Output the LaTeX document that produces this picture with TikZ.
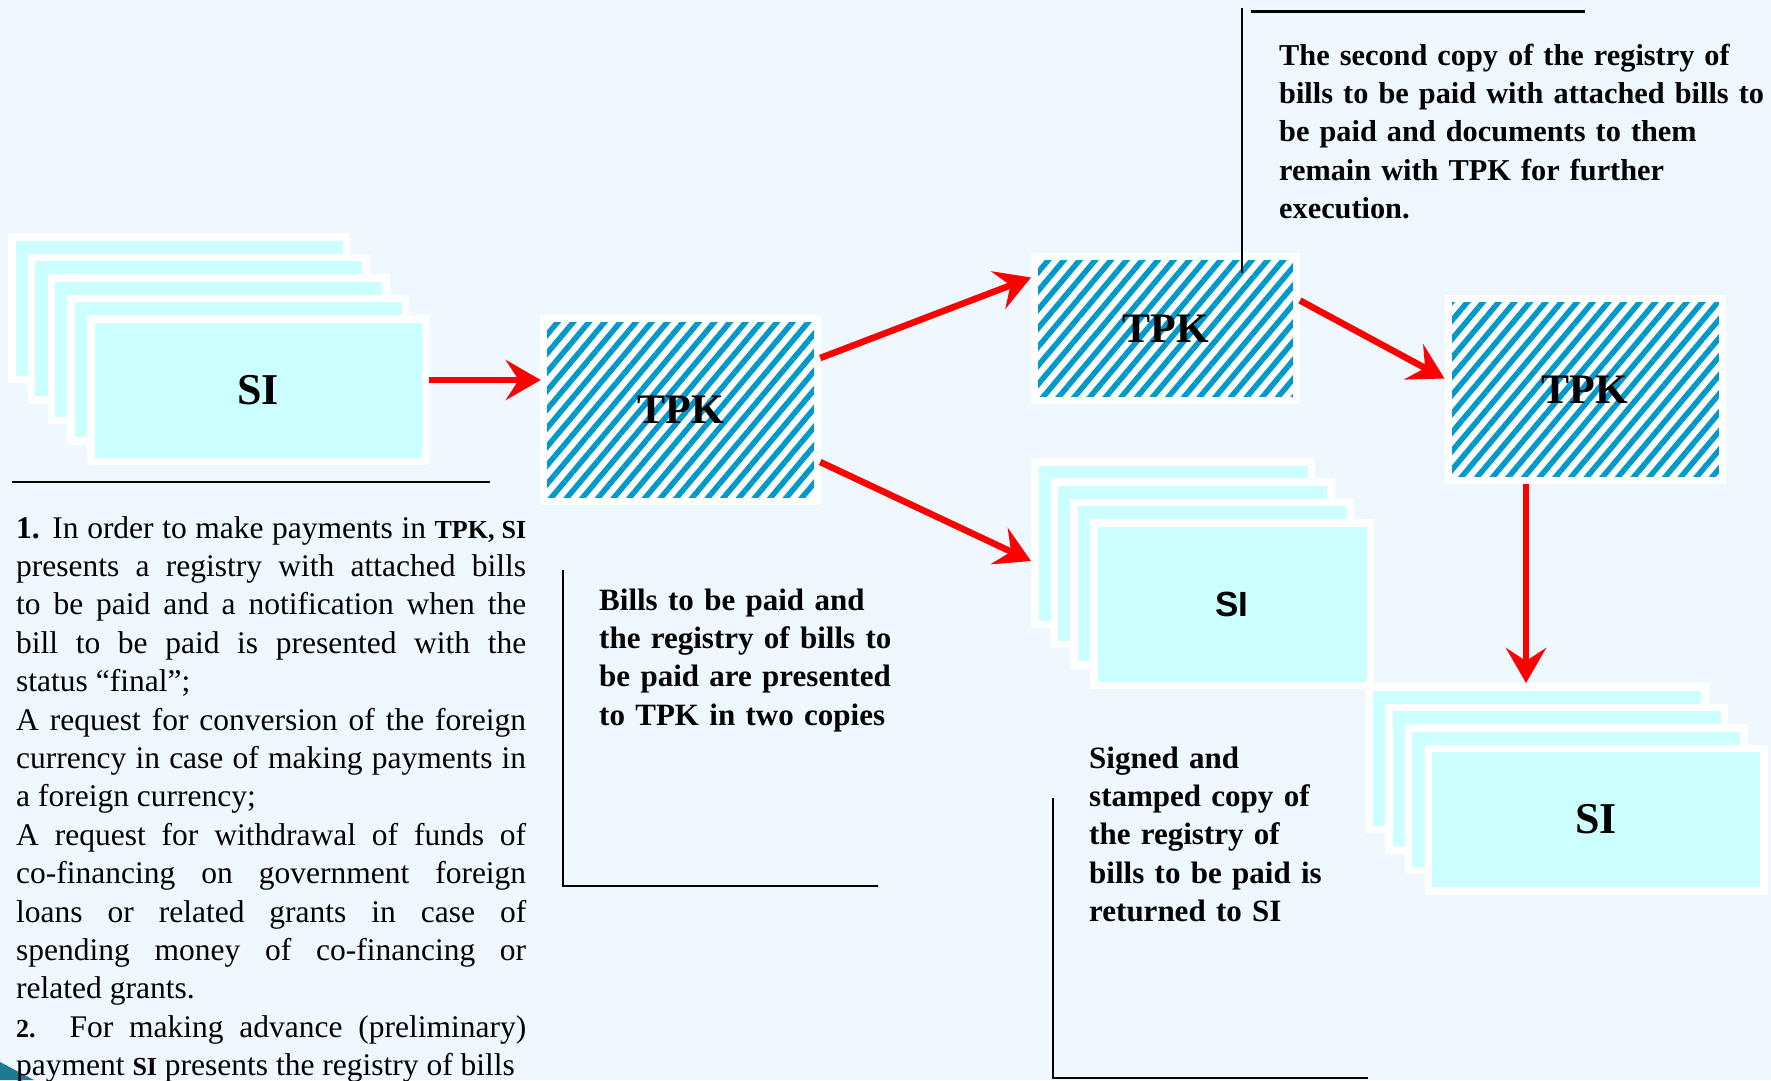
\documentclass[tikz,border=0pt]{standalone}
\usepackage{fontspec}
\setmainfont{Liberation Serif}
\newfontfamily\sifont{Liberation Sans}
\usetikzlibrary{arrows.meta,patterns.meta}
\definecolor{bgblue}{RGB}{239,247,255}
\definecolor{sicyan}{RGB}{204,255,255}
\definecolor{hatchblue}{RGB}{0,153,204}
\definecolor{cornerteal}{RGB}{30,122,145}
\newcommand{\abbr}[1]{{\fontsize{26pt}{38.4pt}\selectfont\bfseries #1}}

\begin{document}
\begin{tikzpicture}[x=1pt, y=-1pt]
		\tikzset{sheet/.style = {shape=rectangle, draw=white, line width=7.5pt, fill=sicyan, inner sep=0pt, font=\fontsize{44pt}{44pt}\selectfont\bfseries}}
		\tikzset{tpk/.style = {shape=rectangle, draw=white, line width=7pt, preaction={fill=white}, pattern={Lines[angle=50, distance=12pt, line width=5.5pt]}, pattern color=hatchblue, inner sep=0pt, font=\fontsize{42pt}{42pt}\selectfont\bfseries}}
		\tikzset{flow/.style = {draw=red, line width=6.5pt, -{Stealth[length=35pt, width=40pt, inset=13pt]}}}
		\tikzset{note/.style = {anchor=base west, inner sep=0pt, align=left, font=\fontsize{31pt}{38.4pt}\selectfont\bfseries}}
		\tikzset{rule/.style = {draw=black, line width=2.5pt}}

		\useasboundingbox (0,0) rectangle (1771,1080);
		\fill[bgblue] (0,0) rectangle (1771,1080);
		\fill[cornerteal] (0,1062) -- (34,1080) -- (0,1080) -- cycle;

		\node[sheet, minimum width=334.5pt, minimum height=142.5pt] (A_1) at (179,308) {};
		\node[sheet, minimum width=334.5pt, minimum height=142.5pt] (A_2) at (198.75,328.5) {};
		\node[sheet, minimum width=334.5pt, minimum height=142.5pt] (A_3) at (218.5,349) {};
		\node[sheet, minimum width=334.5pt, minimum height=142.5pt] (A_4) at (238.25,369.5) {};
		\node[sheet, minimum width=334.5pt, minimum height=142.5pt] (A_5) at (258,390) {SI};

		\node[tpk, minimum width=274pt, minimum height=183pt] (T_1) at (680.5,410) {TPK};
		\node[tpk, minimum width=262pt, minimum height=144pt] (T_2) at (1165.5,328.5) {TPK};
		\node[tpk, minimum width=274pt, minimum height=182pt] (T_3) at (1585,389.5) {TPK};

		\node[sheet, minimum width=276.5pt, minimum height=162.5pt] (B_1) at (1173,543) {};
		\node[sheet, minimum width=276.5pt, minimum height=162.5pt] (B_2) at (1192.7,563.3) {};
		\node[sheet, minimum width=276.5pt, minimum height=162.5pt] (B_3) at (1212.3,583.7) {};
		\node[sheet, minimum width=276.5pt, minimum height=162.5pt, font=\fontsize{35pt}{35pt}\selectfont\sifont\bfseries] (B_4) at (1232,604) {SI};

		\node[sheet, minimum width=335.5pt, minimum height=142.5pt] (C_1) at (1537,758) {};
		\node[sheet, minimum width=335.5pt, minimum height=142.5pt] (C_2) at (1556.7,778.5) {};
		\node[sheet, minimum width=335.5pt, minimum height=142.5pt] (C_3) at (1576.3,799) {};
		\node[sheet, minimum width=335.5pt, minimum height=142.5pt] (C_4) at (1596,819.5) {SI};

		\draw[flow] ([yshift=10pt]A_5.east) -- ([yshift=10pt]A_5.east -| T_1.west);
		\draw[flow] ([yshift=52pt]T_1.east) -- ([yshift=51pt]T_2.west);
		\draw[flow] ([yshift=-52pt]T_1.east) -- ([yshift=-18pt]B_1.west);
		\draw[flow] ([yshift=28pt]T_2.east) -- ([yshift=11pt]T_3.west);
		\draw[flow] ([xshift=-59pt]T_3.south) -- ([xshift=-59pt]T_3.south |- C_1.north);

		\draw[rule] (12,482) -- (490,482);
		\draw[rule] (563,570) -- (563,886) -- (878,886);
		\draw[rule] (1053,798) -- (1053,1078) -- (1368,1078);
		\draw[black, line width=1.5pt] (1242,8) -- (1242,273);
		\draw[black, line width=3pt] (1251,11) -- (1585,11);

		\node[note, text width=490pt, font=\fontsize{30.3pt}{38.4pt}\selectfont\bfseries] (second) at (1279,65) {The second copy of the registry of\\ bills to be paid with attached bills to\\ be paid and documents to them\\ remain with TPK for further\\ execution.};
		\node[note, text width=300pt] (presented) at (599,610) {Bills to be paid and\\ the registry of bills to\\ be paid are presented\\ to TPK in two copies};
		\node[note, text width=270pt] (returned) at (1089,768) {Signed and\\ stamped copy of\\ the registry of\\ bills to be paid is\\ returned to SI};

		\node[anchor=base west, inner sep=0pt, text width=510pt, align=justify, font=\fontsize{31.5pt}{38.4pt}\selectfont] (steps) at (16,538) {\parfillskip=0pt \tolerance=10000 \hyphenpenalty=10000
\textbf{1.} In order to make payments in \abbr{TPK, SI}\break
presents a registry with attached bills\break
to be paid and a notification when the\break
bill to be paid is presented with the\break
status “final”;\hfil\break
A request for conversion of the foreign\break
currency in case of making payments in\break
a foreign currency;\hfil\break
A request for withdrawal of funds of\break
co-financing on government foreign\break
loans or related grants in case of\break
spending money of co-financing or\break
related grants.\hfil\break
\abbr{2.} For making advance (preliminary)\break
payment \abbr{SI} presents the registry of bills};

	\end{tikzpicture}
\end{document}
